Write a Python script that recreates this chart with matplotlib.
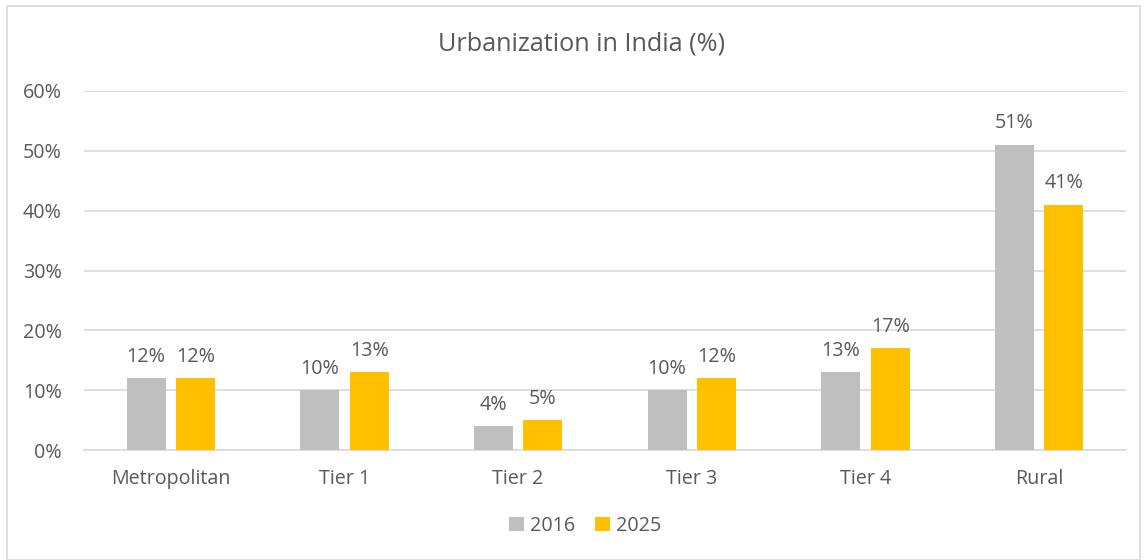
import numpy as np
import matplotlib.pyplot as plt
from matplotlib.patches import Rectangle

plt.rcParams['font.family'] = ['Open Sans', 'DejaVu Sans']

categories = ['Metropolitan', 'Tier 1', 'Tier 2', 'Tier 3', 'Tier 4', 'Rural']
vals_2016 = [12, 10, 4, 10, 13, 51]
vals_2025 = [12, 13, 5, 12, 17, 41]
yticks = [0, 10, 20, 30, 40, 50, 60]

W, H = 1146, 560
fig = plt.figure(figsize=(W / 100, H / 100), dpi=100)
ax = fig.add_axes([84 / W, 1 - 450 / H, 1042 / W, (450 - 91) / H])

# outer chart border
fig.patches.append(Rectangle((7 / W, 0), (1140 - 7) / W, 1 - 6 / H, transform=fig.transFigure,
                             fill=False, edgecolor='#D9D9D9', lw=1.2))

x = np.arange(len(categories))
bw = 0.225
gap = 0.03
b1 = ax.bar(x - bw / 2 - gap, vals_2016, bw, color='#BFBFBF', label='2016', zorder=3)
b2 = ax.bar(x + bw / 2 + gap, vals_2025, bw, color='#FFC000', label='2025', zorder=3)

txt = '#595959'
fs = 14.2
for bars, vals in [(b1, vals_2016), (b2, vals_2025)]:
    for r, v in zip(bars, vals):
        ax.text(r.get_x() + r.get_width() / 2, v + 1.9, f'{v}%', ha='center', va='bottom',
                fontsize=fs, color=txt)

ax.set_xlim(-0.5, len(categories) - 0.5)
ax.set_ylim(0, 60)
ax.set_yticks(yticks)
ax.set_yticklabels([f'{t}%' for t in yticks])
ax.set_xticks(x)
ax.set_xticklabels(categories)
ax.tick_params(axis='both', length=0, labelsize=fs, labelcolor=txt)
ax.tick_params(axis='y', pad=16)
ax.tick_params(axis='x', pad=14)
ax.yaxis.grid(True, color='#D9D9D9', lw=1.2, zorder=0)
for s in ['top', 'right', 'left']:
    ax.spines[s].set_visible(False)
ax.spines['bottom'].set_color('#D9D9D9')
ax.spines['bottom'].set_linewidth(1.2)

fig.text(581 / W, 1 - 44 / H, 'Urbanization in India (%)', ha='center', va='center',
         fontsize=18.2, color=txt)

fig.legend(handles=[b1, b2], loc='center', bbox_to_anchor=(585 / W, 1 - 526 / H), ncol=2,
           frameon=False, fontsize=fs, labelcolor=txt, handlelength=0.75, handleheight=0.75,
           handletextpad=0.3, columnspacing=1.0)

fig.savefig('out.png', dpi=100)
